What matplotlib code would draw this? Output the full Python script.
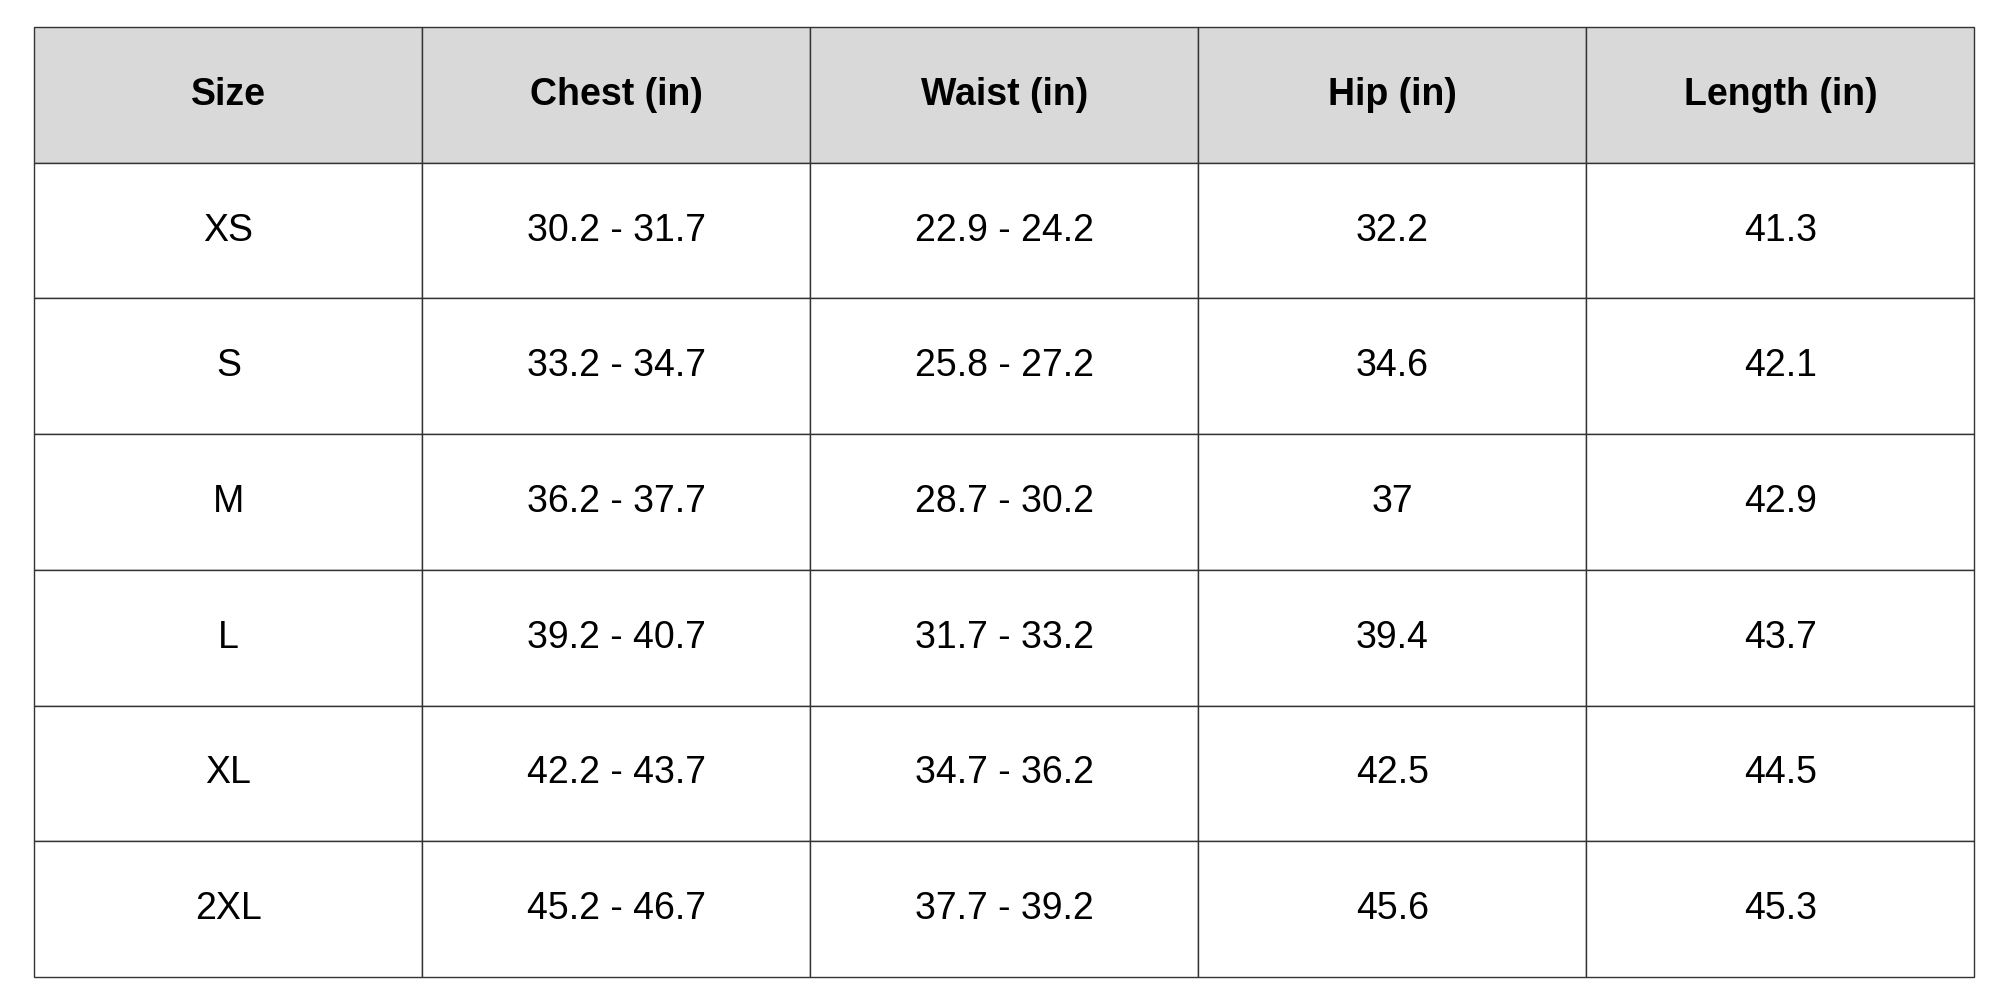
import matplotlib.pyplot as plt

# Table data
columns = ['Size', 'Chest (in)', 'Waist (in)', 'Hip (in)', 'Length (in)']
sizes = ['XS', 'S', 'M', 'L', 'XL', '2XL']
chest = ['30.2 - 31.7', '33.2 - 34.7', '36.2 - 37.7', '39.2 - 40.7', '42.2 - 43.7', '45.2 - 46.7']
waist = ['22.9 - 24.2', '25.8 - 27.2', '28.7 - 30.2', '31.7 - 33.2', '34.7 - 36.2', '37.7 - 39.2']
hip = ['32.2', '34.6', '37', '39.4', '42.5', '45.6']
length = ['41.3', '42.1', '42.9', '43.7', '44.5', '45.3']

rows = [list(r) for r in zip(sizes, chest, waist, hip, length)]

plt.rcParams['font.family'] = ['Liberation Sans', 'DejaVu Sans']
fig = plt.figure(figsize=(20, 10), dpi=100)
ax = fig.add_axes([0, 0, 1, 1])
ax.axis('off')

tbl = ax.table(cellText=rows, colLabels=columns, cellLoc='center',
               bbox=[0.0172, 0.023, 0.970, 0.950])
tbl.auto_set_font_size(False)
for (r, c), cell in tbl.get_celld().items():
    cell.set_edgecolor('#333333')
    cell.set_linewidth(1.0)
    cell.get_text().set_fontsize(27)
    if r == 0:
        cell.set_facecolor('#d9d9d9')
        cell.get_text().set_fontweight('bold')
    else:
        cell.set_facecolor('white')

fig.savefig('out.png', dpi=100)
